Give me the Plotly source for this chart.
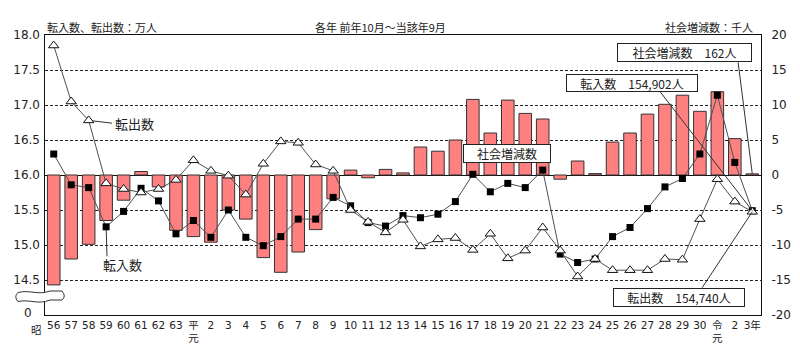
import plotly.graph_objects as go

# ---------------- data ----------------
cats = (["昭56", "昭57", "昭58", "昭59", "昭60", "昭61", "昭62", "昭63", "平元"]
        + ["平%d" % i for i in range(2, 31)]
        + ["令元", "令2", "令3"])
tick_labels = (["56", "57", "58", "59", "60", "61", "62", "63", "平<br>元"]
               + [str(i) for i in range(2, 31)]
               + ["令<br>元", "2", "3年"])

# 社会増減数 (千人)
social = [-15.7, -12.0, -9.9, -6.5, -3.6, 0.5, -1.7, -7.9,
          -8.8, -9.6, -5.0, -6.3, -11.8, -13.9, -11.0, -7.8, -3.4, 0.7,
          -0.4, 0.8, 0.3, 4.0, 3.4, 5.0, 10.8, 6.0, 10.7, 8.8,
          8.0, -0.6, 2.0, 0.2, 4.7, 6.0, 8.7, 10.1, 11.4, 9.1,
          11.9, 5.2, 0.162]
# 転入数 (万人)
inflow = [16.30, 15.86, 15.82, 15.26, 15.48, 15.81, 15.63, 15.16,
          15.35, 15.11, 15.50, 15.11, 14.99, 15.12, 15.37, 15.37, 15.68, 15.56,
          15.32, 15.27, 15.42, 15.39, 15.44, 15.62, 16.01, 15.76, 15.88, 15.82,
          16.07, 14.87, 14.75, 14.80, 15.12, 15.25, 15.52, 15.83, 15.95, 16.30,
          17.14, 16.18, 15.4902]
# 転出数 (万人)
outflow = [17.85, 17.05, 16.78, 15.88, 15.80, 15.75, 15.80, 15.93,
           16.21, 16.06, 15.99, 15.72, 16.16, 16.48, 16.46, 16.15, 16.06, 15.50,
           15.33, 15.18, 15.36, 14.98, 15.08, 15.10, 14.93, 15.16, 14.81, 14.92,
           15.25, 14.92, 14.55, 14.80, 14.64, 14.64, 14.64, 14.80, 14.79, 15.37,
           15.94, 15.62, 15.4740]

left_ticks = [14.5, 15.0, 15.5, 16.0, 16.5, 17.0, 17.5, 18.0]
left_text = ["14.5", "15.0", "15.5", "16.0", "16.5", "17.0", "17.5", "18.0"]
right_ticks = [-20, -15, -10, -5, 0, 5, 10, 15, 20]
right_text = ["-20", "-15", "-10", "-5", "0", "5", "10", "15", "20"]

# ---------------- layout geometry ----------------
W, H = 800, 351
L, R, T, B = 45, 39, 35, 36
PW, PH = W - L - R, H - T - B


def px(x):
    return (x - L) / PW


def py(y):
    return (H - B - y) / PH


NUMFONT = "DejaVu Sans, Noto Sans CJK JP, sans-serif"
JPFONT = "Noto Sans CJK JP, DejaVu Sans, sans-serif"
TXT = "#222222"

fig = go.Figure()
fig.add_trace(go.Bar(
    x=cats, y=social, yaxis="y", width=0.72,
    marker=dict(color="#FF8080", line=dict(color="#333333", width=1)),
    name="社会増減数", showlegend=False))
fig.add_trace(go.Scatter(
    x=cats, y=inflow, yaxis="y2", mode="lines+markers",
    line=dict(color="#505050", width=1),
    marker=dict(symbol="square", size=7, color="black"),
    name="転入数", showlegend=False))
fig.add_trace(go.Scatter(
    x=cats, y=outflow, yaxis="y2", mode="lines+markers",
    line=dict(color="#505050", width=1),
    marker=dict(symbol="triangle-up", size=9, color="white",
                line=dict(color="#111111", width=1)),
    name="転出数", showlegend=False))

n = len(cats) - 1

shapes = [
    # leader: 転出数 label
    dict(type="line", xref="x", yref="y2", x0=2, y0=outflow[2], x1=3.34, y1=16.74,
         line=dict(color="#333", width=1), layer="below"),
    # leader: 転入数 label
    dict(type="line", xref="x", yref="y2", x0=3, y0=inflow[3], x1=3.05, y1=14.84,
         line=dict(color="#333", width=1), layer="below"),
    # leader: 社会増減数 162人
    dict(type="line", xref="x", yref="y", x0=39.19, y0=16.1, x1=n, y1=social[n],
         line=dict(color="#333", width=1), layer="above"),
    # leader: 転入数 154,902人
    dict(type="line", xref="x", yref="y2", x0=34.72, y0=17.19, x1=n, y1=inflow[n],
         line=dict(color="#333", width=1), layer="above"),
    # leader: 転出数 154,740人
    dict(type="line", xref="x", yref="y2", x0=37.13, y0=14.39, x1=n, y1=outflow[n],
         line=dict(color="#333", width=1), layer="above"),
]

# axis break symbol
pts = "M {a},{b} C {c},{d} {e},{f} {g},{h} L {i},{h} Q {j},{k} {i},{l} L {g},{l} C {e},{m} {c},{n} {a},{o} Q {p},{k} {a},{b} Z"
brk = pts.format(
    a=px(18), b=py(292.5), c=px(30), d=py(289.5), e=px(38), f=py(295.5), g=px(50), h=py(291),
    i=px(62), j=px(66.5), k=py(296.5), l=py(300), m=py(305), n=py(299), o=py(301.5), p=px(13.5))
shapes.append(dict(type="path", xref="paper", yref="paper", path=brk,
                   fillcolor="white", line=dict(color="#333", width=1), layer="above"))

box = dict(showarrow=False, bgcolor="white", bordercolor="#222", borderwidth=1,
           borderpad=0, font=dict(family=JPFONT, size=12, color=TXT))

annotations = [
    dict(text="転入数、転出数：万人", xref="paper", yref="paper", x=px(45), y=py(27),
         xanchor="left", yanchor="middle", showarrow=False,
         font=dict(family=JPFONT, size=11, color=TXT)),
    dict(text="各年 前年10月～当該年9月", xref="paper", yref="paper", x=px(380), y=py(27),
         xanchor="center", yanchor="middle", showarrow=False,
         font=dict(family=JPFONT, size=11, color=TXT)),
    dict(text="社会増減数：千人", xref="paper", yref="paper", x=px(755), y=py(27),
         xanchor="right", yanchor="middle", showarrow=False,
         font=dict(family=JPFONT, size=11, color=TXT)),
    # broken-axis bottom label "0"
    dict(text="0", xref="paper", yref="paper", x=px(34), y=py(313),
         xanchor="right", yanchor="middle", showarrow=False,
         font=dict(family=NUMFONT, size=12, color=TXT)),
    dict(text="昭", xref="paper", yref="paper", x=px(36), y=py(329),
         xanchor="center", yanchor="middle", showarrow=False,
         font=dict(family=JPFONT, size=10.5, color=TXT)),
    dict(text="転出数", xref="x", yref="y2", x=3.4, y=16.74, xanchor="left", yanchor="middle",
         showarrow=False, font=dict(family=JPFONT, size=13, color=TXT)),
    dict(text="転入数", xref="x", yref="y2", x=3.91, y=14.72, xanchor="center", yanchor="middle",
         showarrow=False, font=dict(family=JPFONT, size=13, color=TXT)),
    dict(box, text="社会増減数", xref="x", yref="y2", x=25.96, y=16.31,
         width=86, height=17),
    dict(box, text="社会増減数　162人", xref="x", yref="y2", x=36.13, y=17.75,
         width=133, height=17),
    dict(box, text="転入数　154,902人", xref="x", yref="y2", x=33.12, y=17.31,
         width=130, height=16),
    dict(box, text="転出数　154,740人", xref="x", yref="y2", x=35.81, y=14.25,
         width=130, height=17),
]

fig.update_layout(
    width=W, height=H,
    margin=dict(l=L, r=R, t=T, b=B, pad=0),
    paper_bgcolor="white", plot_bgcolor="white",
    bargap=0.28,
    xaxis=dict(type="category", categoryorder="array", categoryarray=cats,
               tickmode="array", tickvals=cats, ticktext=tick_labels,
               range=[-0.5, len(cats) - 0.5], showgrid=False, zeroline=False,
               showline=True, mirror=True, linecolor="#111", linewidth=1,
               ticks="", tickangle=0, automargin=False,
               tickfont=dict(family=NUMFONT, size=10.5, color=TXT)),
    yaxis=dict(side="right", range=[-20, 20], tickmode="array",
               tickvals=right_ticks, ticktext=right_text,
               showgrid=True, gridcolor="#222", gridwidth=1, griddash="3px,2px",
               zeroline=True, zerolinecolor="#111", zerolinewidth=1,
               showline=True, mirror=True, linecolor="#111", linewidth=1,
               ticks="", ticklabelstandoff=7, automargin=False,
               tickfont=dict(family=NUMFONT, size=12, color=TXT)),
    yaxis2=dict(overlaying="y", side="left", range=[14, 18], tickmode="array",
                tickvals=left_ticks, ticktext=left_text,
                showgrid=False, zeroline=False, showline=False,
                ticks="", ticklabelstandoff=4, automargin=False,
                tickfont=dict(family=NUMFONT, size=12, color=TXT)),
    shapes=shapes,
    annotations=annotations,
)

fig.write_html("out.html")
